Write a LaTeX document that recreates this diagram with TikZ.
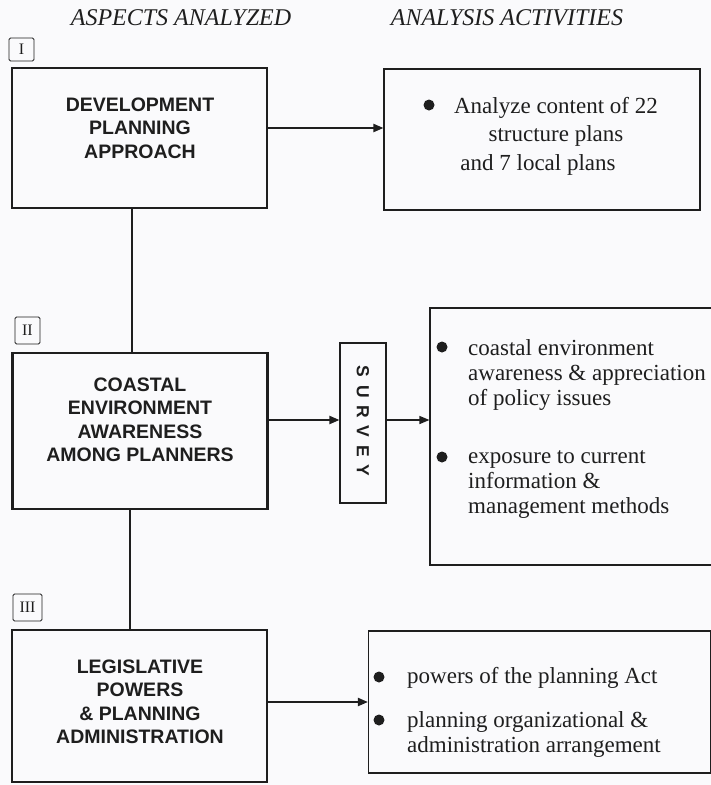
\documentclass[tikz,border=0pt]{standalone}
\usepackage{fontspec}
\setmainfont{Liberation Serif}
\setsansfont{Liberation Sans}
\newfontfamily\surveyfont[LetterSpace=45]{Liberation Sans}
\usetikzlibrary{arrows.meta,positioning}
\definecolor{ink}{RGB}{30,30,30}
\definecolor{paper}{RGB}{250,250,252}

\begin{document}
\begin{tikzpicture}[x=1pt,y=-1pt,
  aspect/.style={draw=ink,line width=2.4pt,inner sep=0pt,minimum width=255pt},
  activity/.style={draw=ink,line width=1.1pt,inner sep=0pt},
  tag/.style={draw=ink,line width=0.9pt,rounded corners=1.5pt,inner sep=0pt,text=ink,font=\fontsize{16}{16}\selectfont},
  aspecttext/.style={align=center,text=ink,font=\sffamily\bfseries\fontsize{19.5}{23.5}\selectfont},
  activitytext/.style={align=left,anchor=base west,inner sep=0pt,text=ink,font=\fontsize{23}{25}\selectfont},
  heading/.style={text=ink,font=\itshape\fontsize{24}{24}\selectfont},
  flow/.style={draw=ink,line width=2pt,-{Triangle[length=10pt,width=8pt]}},
  link/.style={draw=ink,line width=2pt}]

  \fill[paper] (0,0) rectangle (711,785);          %Page
  \useasboundingbox (0,0) rectangle (711,785);

  \node[heading] (hasp) at (181,18) {ASPECTS ANALYZED};    %Column headings
  \node[heading] (hact) at (507,18) {ANALYSIS ACTIVITIES};

  \node[tag,minimum width=25pt,minimum height=23pt] (tagI)   at (21.5,49.5)  {I};
  \node[tag,minimum width=25pt,minimum height=27pt] (tagII)  at (27.5,330.5) {II};
  \node[tag,minimum width=29pt,minimum height=27pt] (tagIII) at (27.5,607.5) {III};

  % Aspects analyzed
  \node[aspect,minimum height=140pt] (dev) at (139.5,138) {};
  \node[aspecttext] (devtxt) at (140,128) {DEVELOPMENT\\PLANNING\\APPROACH};

  \node[aspect,minimum height=156pt] (coast) at (140,431) {};
  \node[aspecttext] (coasttxt) at (140,420) {COASTAL\\ENVIRONMENT\\AWARENESS\\AMONG PLANNERS};

  \node[aspect,minimum height=152pt] (legis) at (139.5,706) {};
  \node[aspecttext] (legistxt) at (140,702) {LEGISLATIVE\\POWERS\\\& PLANNING\\ADMINISTRATION};

  % Analysis activities (base = last line)
  \node[activity,minimum width=316pt,minimum height=141pt] (plans) at (542,139.5) {};
  \fill[ink] (429,105) circle[radius=5.5];
  \node[activitytext,align=center,anchor=base,font=\fontsize{23}{28.5}\selectfont] (planstxt) at (556,170)
    {Analyze content of 22\\structure plans\\and 7 local plans\kern36pt};

  \node[activity,minimum width=46pt,minimum height=160pt] (survey) at (363,423) {};
  \node[rotate=-90,text=ink,font=\surveyfont\bfseries\fontsize{17.5}{17.5}\selectfont] (surveytxt) at (363,421) {SURVEY};

  \node[activity,minimum width=286pt,minimum height=257pt] (aware) at (573,436.5) {};
  \fill[ink] (442,347) circle[radius=5.5];
  \node[activitytext] (awaretxt) at (468,405) {coastal environment\\awareness \& appreciation\\of policy issues};
  \fill[ink] (442,457) circle[radius=5.5];
  \node[activitytext] (exposetxt) at (468,513) {exposure to current\\information \&\\management methods};

  \node[activity,minimum width=342pt,minimum height=142pt] (admin) at (539.5,702) {};
  \fill[ink] (379,677) circle[radius=5.5];
  \node[activitytext] (actxt) at (407,683) {powers of the planning Act};
  \fill[ink] (379,720) circle[radius=5.5];
  \node[activitytext] (orgtxt) at (407,752) {planning organizational \&\\administration arrangement};

  % Connectors
  \draw[flow] (dev.east |- devtxt) -- (plans.west |- devtxt);
  \draw[link] ([xshift=-8pt]dev.south) -- ([xshift=-8pt]dev.south |- coast.north);
  \draw[flow] (coast.east |- coasttxt) -- (survey.west |- coasttxt);
  \draw[flow,line width=1.3pt] (survey.east |- coasttxt) -- (aware.west |- coasttxt);
  \draw[link] ([xshift=-10pt]coast.south) -- ([xshift=-10pt]coast.south |- legis.north);
  \draw[flow] (legis.east |- legistxt) -- (admin.west |- legistxt);
\end{tikzpicture}
\end{document}
